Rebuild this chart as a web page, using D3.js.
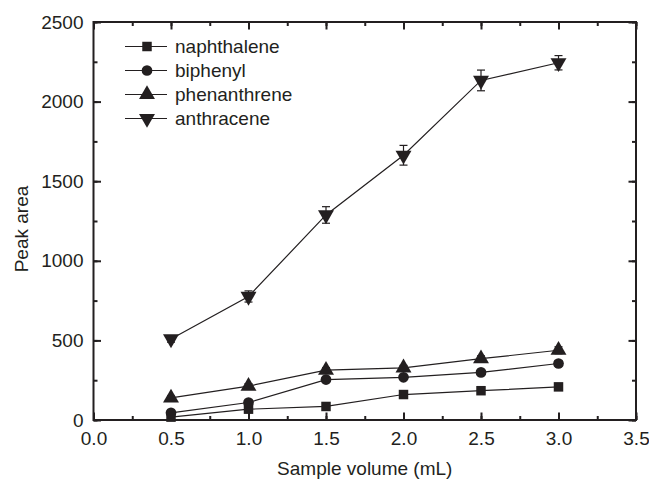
<!DOCTYPE html>
<html>
<head>
<meta charset="utf-8">
<script src="https://cdn.jsdelivr.net/npm/d3@7"></script>
<style>
  body { margin: 0; background: #fff; }
  text { font-family: "Liberation Sans", Arial, sans-serif; fill: #231f20; }
</style>
</head>
<body>
<div class="chart"></div>
<script>
var svgWidth = 649;
var svgHeight = 479;

var margin = { top: 22, right: 13, bottom: 59, left: 93.5 };
var width = svgWidth - margin.left - margin.right;
var height = svgHeight - margin.top - margin.bottom;

// data
var volumes = [0.5, 1.0, 1.5, 2.0, 2.5, 3.0];
var seriesNames = ["naphthalene", "biphenyl", "phenanthrene", "anthracene"];
var naphthalene = [18, 68, 85, 160, 184, 208];
var biphenyl = [45, 110, 254, 268, 299, 355];
var phenanthrene = [139, 213, 313, 328, 385, 438];
var anthracene = [509, 776, 1288, 1663, 2133, 2244];
var naphthaleneErr = [10, 15, 12, 15, 15, 22];
var biphenylErr = [12, 15, 15, 12, 12, 18];
var phenanthreneErr = [12, 15, 15, 15, 18, 22];
var anthraceneErr = [20, 35, 52, 62, 65, 45];
var xTicks = [0, 0.5, 1.0, 1.5, 2.0, 2.5, 3.0, 3.5];
var yTicks = [0, 500, 1000, 1500, 2000, 2500];

var allValues = [naphthalene, biphenyl, phenanthrene, anthracene];
var allErrors = [naphthaleneErr, biphenylErr, phenanthreneErr, anthraceneErr];
var symbols = [d3.symbolSquare, d3.symbolCircle, d3.symbolTriangle, d3.symbolTriangle];
var symbolSizes = [90, 90, 110, 110];

var svg = d3.select(".chart")
  .append("svg")
  .attr("width", svgWidth)
  .attr("height", svgHeight);

var chartGroup = svg.append("g")
  .attr("transform", `translate(${margin.left}, ${margin.top})`);

var xScale = d3.scaleLinear().domain([0, 3.5]).range([0, width]);
var yScale = d3.scaleLinear().domain([0, 2500]).range([height, 0]);

var ink = "#231f20";

// minor ticks (inward, all four sides)
var xMinor = d3.range(0, 3.5001, 0.25);
var yMinor = d3.range(0, 2500.1, 250);

function drawTicks(g, axis, vals, len) {
  g.call(axis.tickValues(vals).tickSize(-len).tickFormat(""));
  g.select(".domain").remove();
  g.selectAll("line").attr("stroke", ink).attr("stroke-width", 2);
}

drawTicks(chartGroup.append("g").attr("transform", `translate(0, ${height})`), d3.axisBottom(xScale), xMinor, 4);
drawTicks(chartGroup.append("g").attr("transform", `translate(0, ${height})`), d3.axisBottom(xScale), xTicks, 7.5);
drawTicks(chartGroup.append("g"), d3.axisTop(xScale), xMinor, 4);
drawTicks(chartGroup.append("g"), d3.axisTop(xScale), xTicks, 7.5);
drawTicks(chartGroup.append("g"), d3.axisLeft(yScale), yMinor, 4);
drawTicks(chartGroup.append("g"), d3.axisLeft(yScale), yTicks, 7.5);
drawTicks(chartGroup.append("g").attr("transform", `translate(${width}, 0)`), d3.axisRight(yScale), yMinor, 4);
drawTicks(chartGroup.append("g").attr("transform", `translate(${width}, 0)`), d3.axisRight(yScale), yTicks, 7.5);

// frame
chartGroup.append("rect")
  .attr("width", width)
  .attr("height", height)
  .attr("fill", "none")
  .attr("stroke", ink)
  .attr("stroke-width", 2);

// tick labels
var bottomAxis = d3.axisBottom(xScale).tickValues(xTicks).tickSize(0).tickPadding(12).tickFormat(d3.format(".1f"));
var gx = chartGroup.append("g").attr("transform", `translate(0, ${height})`).call(bottomAxis);
gx.select(".domain").remove();
gx.selectAll("text").attr("font-size", 19).attr("font-family", null).attr("fill", ink);

var leftAxis = d3.axisLeft(yScale).tickValues(yTicks).tickSize(0).tickPadding(10).tickFormat(d3.format("d"));
var gy = chartGroup.append("g").call(leftAxis);
gy.select(".domain").remove();
gy.selectAll("text").attr("font-size", 19).attr("font-family", null).attr("fill", ink);

// series
var line = d3.line()
  .x(function(d, i) { return xScale(volumes[i]); })
  .y(function(d) { return yScale(d); });

allValues.forEach(function(vals, s) {
  var g = chartGroup.append("g");
  g.append("path")
    .attr("d", line(vals))
    .attr("fill", "none")
    .attr("stroke", ink)
    .attr("stroke-width", 1.2);

  vals.forEach(function(v, i) {
    var e = allErrors[s][i];
    var x = xScale(volumes[i]);
    g.append("line")
      .attr("x1", x).attr("x2", x)
      .attr("y1", yScale(v - e)).attr("y2", yScale(v + e))
      .attr("stroke", ink).attr("stroke-width", 1.2);
    [v - e, v + e].forEach(function(c) {
      g.append("line")
        .attr("x1", x - 4).attr("x2", x + 4)
        .attr("y1", yScale(c)).attr("y2", yScale(c))
        .attr("stroke", ink).attr("stroke-width", 1.2);
    });
  });

  g.selectAll("path.mark")
    .data(vals)
    .enter()
    .append("path")
    .attr("class", "mark")
    .attr("d", d3.symbol().type(symbols[s]).size(symbolSizes[s]))
    .attr("transform", function(d, i) {
      var t = `translate(${xScale(volumes[i])}, ${yScale(d)})`;
      return s === 3 ? t + " rotate(180)" : t;
    })
    .attr("fill", ink);
});

// legend
var legend = chartGroup.append("g").attr("transform", "translate(31.5, 24.5)");
seriesNames.forEach(function(name, i) {
  var row = legend.append("g").attr("transform", `translate(0, ${i * 24})`);
  row.append("line")
    .attr("x1", 0).attr("x2", 42)
    .attr("stroke", ink).attr("stroke-width", 1.2);
  row.append("path")
    .attr("d", d3.symbol().type(symbols[i]).size(symbolSizes[i]))
    .attr("transform", i === 3 ? "translate(22, 0) rotate(180)" : "translate(22, 0)")
    .attr("fill", ink);
  row.append("text")
    .attr("x", 50)
    .attr("dy", "0.35em")
    .attr("font-size", 19)
    .text(name);
});

// axis titles
chartGroup.append("text")
  .attr("transform", "rotate(-90)")
  .attr("x", -(height / 2) - 8)
  .attr("y", -66)
  .attr("text-anchor", "middle")
  .attr("font-size", 19)
  .text("Peak area");

chartGroup.append("text")
  .attr("x", width / 2)
  .attr("y", height + 55)
  .attr("text-anchor", "middle")
  .attr("font-size", 19)
  .text("Sample volume (mL)");
</script>
</body>
</html>
